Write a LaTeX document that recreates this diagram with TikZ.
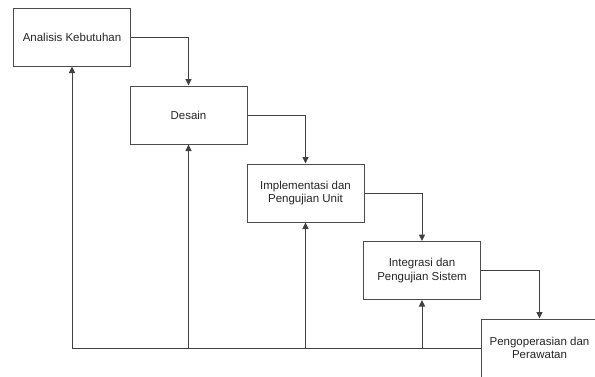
\documentclass[tikz,border=0pt]{standalone}
\usepackage{fontspec}
\setmainfont{Liberation Sans}
\usepackage{tikz}
\usetikzlibrary{positioning,arrows.meta}

\begin{document}
\begin{tikzpicture}[x=1pt,y=-1pt,
  tahap/.style={draw=black!70, line width=1pt, fill=white, minimum width=117pt,
    minimum height=58pt, inner sep=0pt, align=center, text=black!85,
    font=\fontsize{11.5}{13.5}\selectfont},
  panah/.style={draw=black!75, line width=1pt, -{Triangle[length=6.5pt,width=6pt]}}]
\clip (0,0) rectangle (595,376);
% tahapan waterfall
\node[tahap] (analisis) at (72,37) {Analisis Kebutuhan};
\node[tahap] (desain) at (188.5,115) {Desain};
\node[tahap] (impl) at (305.5,193) {Implementasi dan\\Pengujian Unit};
\node[tahap] (integrasi) at (422,270.5) {Integrasi dan\\Pengujian Sistem};
\node[tahap] (operasi) at (539.5,348) {Pengoperasian dan\\Perawatan};
% alur turun
\draw[panah] (analisis.east) -| (desain.north);
\draw[panah] (desain.east) -| (impl.north);
\draw[panah] (impl.east) -| (integrasi.north);
\draw[panah] (integrasi.east) -| (operasi.north);
% alur balik
\draw[panah] (operasi.west) -| (analisis.south);
\draw[panah] (desain.south |- operasi.west) -- (desain.south);
\draw[panah] (impl.south |- operasi.west) -- (impl.south);
\draw[panah] (integrasi.south |- operasi.west) -- (integrasi.south);
\end{tikzpicture}
\end{document}
